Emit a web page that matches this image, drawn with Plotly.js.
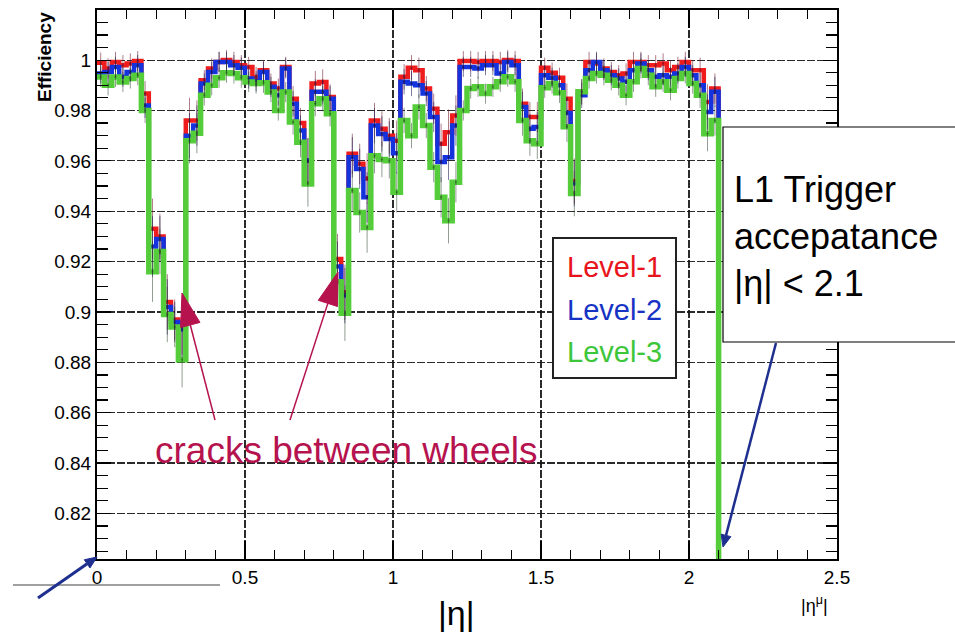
<!DOCTYPE html>
<html>
<head>
<meta charset="utf-8">
<script src="https://cdn.plot.ly/plotly-3.0.1.min.js"></script>
<style>
html,body{margin:0;padding:0;background:#fff;}
#chart{width:955px;height:634px;}
</style>
</head>
<body>
<div id="chart"></div>
<script>
// ---- data: efficiency per |eta| bin (bin width 0.025, from 0 to 2.1) ----
const binWidth = 0.025;
const etaMax = 2.1;

const level1 = [
 0.999,0.9967,0.9993,0.998,0.9987,0.9996,0.9867,0.933,0.930,0.904,
 0.897,0.894,0.976,0.976,0.992,0.9967,0.9993,1.000,0.9993,0.998,
 0.9973,0.9933,0.996,0.9907,0.9887,0.9973,0.9847,0.975,0.960,0.9907,
 0.9913,0.9854,0.921,0.9078,0.9628,0.9588,0.953,0.976,0.9727,0.970,
 0.968,0.9934,0.997,0.996,0.9887,0.9807,0.9668,0.9714,0.978,0.9996,
 0.9996,0.9993,0.9996,0.9996,0.9993,1.000,0.9996,0.9827,0.9774,0.9774,
 0.997,0.995,0.993,0.9847,0.952,0.9874,0.9993,0.9987,0.9967,0.9953,
 0.994,0.9947,0.9993,0.9993,0.998,0.998,0.9987,0.996,0.9973,0.9993,
 0.996,0.996,0.9834,0.9887
];
const level2 = [
 0.9947,0.9953,0.9973,0.9934,0.9953,0.998,0.982,0.926,0.929,0.902,
 0.896,0.893,0.970,0.974,0.9907,0.9953,0.9993,0.9993,0.998,0.997,
 0.9927,0.9916,0.9953,0.9894,0.986,0.9967,0.9827,0.9721,0.9601,0.9874,
 0.9874,0.9847,0.918,0.9065,0.9614,0.9568,0.9455,0.974,0.9707,0.9687,
 0.963,0.9914,0.9907,0.990,0.9867,0.9774,0.9595,0.9614,0.974,0.9973,
 0.9973,0.9967,0.998,0.998,0.9947,0.9993,0.998,0.9814,0.9727,0.9734,
 0.994,0.993,0.990,0.979,0.951,0.986,0.996,0.9993,0.996,0.994,
 0.9927,0.9914,0.996,0.9987,0.996,0.9934,0.994,0.9934,0.9947,0.9973,
 0.994,0.990,0.9794,0.9874
];
const level3 = [
 0.9933,0.990,0.9933,0.9913,0.9927,0.994,0.980,0.916,0.924,0.899,
 0.894,0.881,0.968,0.971,0.986,0.990,0.993,0.995,0.9947,0.993,
 0.9913,0.9907,0.991,0.9873,0.980,0.9873,0.9754,0.9674,0.9508,0.9827,
 0.9847,0.9787,0.912,0.8995,0.9482,0.9395,0.9335,0.962,0.9605,0.960,
 0.9475,0.976,0.970,0.9814,0.974,0.9575,0.9455,0.9362,0.9515,0.980,
 0.9887,0.9894,0.9867,0.9894,0.9914,0.9934,0.9914,0.976,0.968,0.9668,
 0.989,0.9907,0.987,0.9735,0.947,0.9874,0.9927,0.9947,0.994,0.992,
 0.990,0.986,0.9914,0.9967,0.994,0.9894,0.9914,0.988,0.9927,0.9947,
 0.9907,0.986,0.9708,0.976
];
// statistical error per bin (approx. half-length of the error bars)
const statErr = [
 0.004,0.004,0.004,0.004,0.004,0.004,0.005,0.012,0.009,0.011,
 0.008,0.011,0.009,0.008,0.004,0.004,0.004,0.004,0.004,0.004,
 0.004,0.004,0.004,0.004,0.004,0.004,0.005,0.006,0.009,0.005,
 0.005,0.005,0.010,0.011,0.008,0.008,0.010,0.007,0.007,0.007,
 0.008,0.005,0.005,0.005,0.005,0.006,0.008,0.009,0.008,0.004,
 0.004,0.004,0.004,0.004,0.004,0.004,0.004,0.006,0.006,0.006,
 0.004,0.004,0.004,0.006,0.009,0.005,0.004,0.004,0.004,0.004,
 0.004,0.004,0.004,0.004,0.004,0.004,0.004,0.004,0.004,0.004,
 0.004,0.005,0.007,0.006
];
const seriesNames = ['Level-1','Level-2','Level-3'];
const seriesColors = ['#ee1c1c','#1533dd','#55cc3a'];
const seriesWidths = [4.5,4.5,5.5];
const yTicks = {dtick:0.02, minor:0.005};
const xTicks = {dtick:0.5, minor:0.1};

// ---- build traces ----
const series = [level1, level2, level3];
const traces = [];
series.forEach((vals, k) => {
  const xs = vals.map((v,i)=> i*binWidth); xs.push(etaMax);
  const ys = vals.slice(); ys.push(0);
  traces.push({type:'scatter', mode:'lines', x:xs, y:ys, name:seriesNames[k],
    line:{shape:'hv', color:seriesColors[k], width:seriesWidths[k]}, hoverinfo:'skip', showlegend:false});
});
const errColors = ['rgba(110,20,40,0.55)','rgba(20,20,80,0.55)','rgba(40,60,40,0.5)'];
series.forEach((vals, k) => {
  traces.push({type:'scatter', mode:'markers', x:vals.map((v,i)=>(i+0.5)*binWidth), y:vals,
    marker:{size:2, color:errColors[k]},
    error_y:{type:'data', array:statErr, visible:true, thickness:1, width:0, color:errColors[k]},
    hoverinfo:'skip', showlegend:false});
});

// ---- pixel helpers for decorations ----
const L=97, R=837, T=10, B=559;
const PX = p => (p-L)/(R-L);
const PY = p => (B-p)/(B-T);
function arrow(tail, tip, color, w, headLen, headHalf){
  const dx=tip[0]-tail[0], dy=tip[1]-tail[1], len=Math.hypot(dx,dy);
  const ux=dx/len, uy=dy/len, nx=-uy, ny=ux;
  const bc=[tip[0]-ux*headLen, tip[1]-uy*headLen];
  const p1=[bc[0]+nx*headHalf, bc[1]+ny*headHalf], p2=[bc[0]-nx*headHalf, bc[1]-ny*headHalf];
  return [
    {type:'line', xref:'paper', yref:'paper', x0:PX(tail[0]), y0:PY(tail[1]), x1:PX(bc[0]), y1:PY(bc[1]),
      line:{color:color, width:w}, layer:'above'},
    {type:'path', xref:'paper', yref:'paper', layer:'above',
      path:`M${PX(tip[0])},${PY(tip[1])} L${PX(p1[0])},${PY(p1[1])} L${PX(p2[0])},${PY(p2[1])} Z`,
      fillcolor:color, line:{color:color, width:1}}
  ];
}
const crimson = '#b5124e', navy = '#1f2f90';
const shapes = [
  {type:'rect', xref:'paper', yref:'paper', x0:PX(553), x1:PX(676), y0:PY(378), y1:PY(238),
   fillcolor:'#ffffff', line:{color:'#222', width:2}, layer:'above'},
  {type:'rect', xref:'paper', yref:'paper', x0:PX(723), x1:PX(965), y0:PY(342), y1:PY(127),
   fillcolor:'#ffffff', line:{color:'#000', width:1.2}, layer:'above'},
  {type:'line', xref:'paper', yref:'paper', x0:PX(13), x1:PX(220), y0:PY(585), y1:PY(585),
   line:{color:'#808080', width:1.5}, layer:'above'},
  ...arrow([215,420],[182,293], crimson, 1.5, 33, 10),
  ...arrow([290,420],[338,272], crimson, 1.5, 33, 10),
  ...arrow([776,343],[723,547], navy, 2.5, 12, 5),
  ...arrow([38,598],[97,557], navy, 3, 12, 5)
];

const font = 'Liberation Sans, Arial, sans-serif';
const annotations = [
  {text:'<b>Efficiency</b>', xref:'paper', yref:'paper', x:PX(45), y:PY(57), textangle:-90,
   showarrow:false, xanchor:'center', yanchor:'middle', font:{family:font, size:19, color:'#000'}},
  {text:seriesNames[0], xref:'paper', yref:'paper', x:PX(614), y:PY(267), showarrow:false,
   xanchor:'center', yanchor:'middle', font:{family:font, size:29, color:'#e8141c'}},
  {text:seriesNames[1], xref:'paper', yref:'paper', x:PX(614), y:PY(310), showarrow:false,
   xanchor:'center', yanchor:'middle', font:{family:font, size:29, color:'#1733c4'}},
  {text:seriesNames[2], xref:'paper', yref:'paper', x:PX(614), y:PY(352), showarrow:false,
   xanchor:'center', yanchor:'middle', font:{family:font, size:29, color:'#3ec63a'}},
  {text:'L1 Trigger<br>accepatance<br>|η| &lt; 2.1', xref:'paper', yref:'paper', x:PX(732), y:PY(236),
   showarrow:false, xanchor:'left', yanchor:'middle', align:'left', font:{family:font, size:36, color:'#000'}},
  {text:'cracks between wheels', xref:'paper', yref:'paper', x:PX(346), y:PY(450), showarrow:false,
   xanchor:'center', yanchor:'middle', font:{family:font, size:37, color:crimson}},
  {text:'|η|', xref:'paper', yref:'paper', x:PX(456), y:PY(613), showarrow:false,
   xanchor:'center', yanchor:'middle', font:{family:font, size:34, color:'#000'}},
  {text:'|η<sup>μ</sup>|', xref:'paper', yref:'paper', x:PX(814), y:PY(604), showarrow:false,
   xanchor:'center', yanchor:'middle', font:{family:font, size:18, color:'#000'}}
];

const axisCommon = {
  showline:true, linecolor:'#000', linewidth:2, mirror:'allticks',
  ticks:'inside', tickcolor:'#000', tickwidth:1.2,
  showgrid:true, gridcolor:'rgba(20,20,20,0.9)', gridwidth:1.2, griddash:'8px,2px',
  zeroline:false, tickfont:{family:font, size:19, color:'#000'}
};
const layout = {
  width:955, height:634,
  margin:{l:L, r:955-R, t:T, b:634-B, pad:0},
  paper_bgcolor:'#ffffff', plot_bgcolor:'#ffffff',
  showlegend:false,
  xaxis:Object.assign({}, axisCommon, {range:[0,2.5], tick0:0, dtick:xTicks.dtick, ticklen:18,
    minor:{dtick:xTicks.minor, tick0:0, ticks:'inside', ticklen:9, tickcolor:'#000', tickwidth:1.2, showgrid:false}}),
  yaxis:Object.assign({}, axisCommon, {range:[0.8019,1.0199], tick0:0.8, dtick:yTicks.dtick, ticklen:14,
    minor:{dtick:yTicks.minor, tick0:0.8, ticks:'inside', ticklen:11, tickcolor:'#000', tickwidth:1.2, showgrid:false}}),
  shapes:shapes,
  annotations:annotations
};
Plotly.newPlot('chart', traces, layout, {staticPlot:true, displayModeBar:false});
</script>
</body>
</html>
